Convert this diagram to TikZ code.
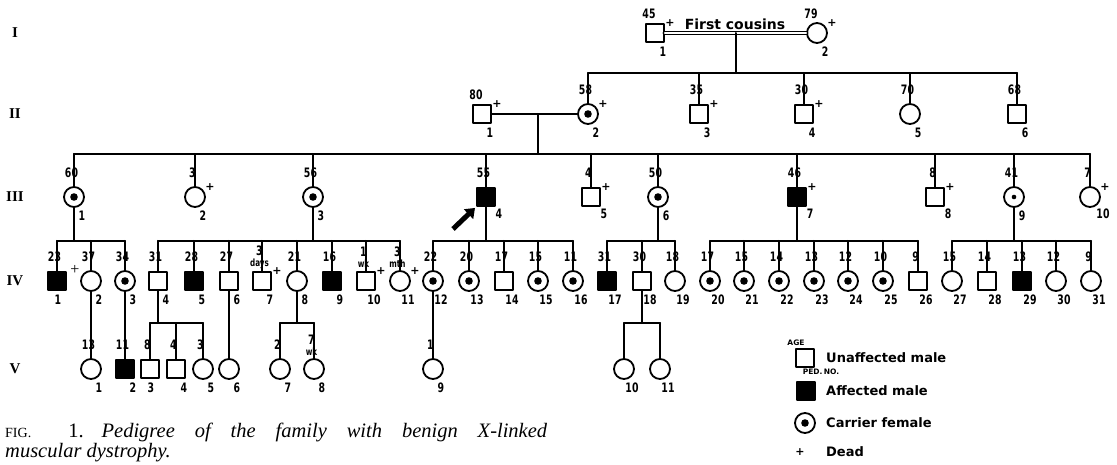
\documentclass[tikz,border=0pt]{standalone}
\usepackage{fontspec}
\setmainfont{Liberation Serif}
\newfontfamily\pedfont[FakeStretch=0.72]{DejaVu Sans}
\newfontfamily\keyfont{DejaVu Sans}
\usetikzlibrary{arrows,arrows.meta,calc}
\newcommand{\agesmall}[1]{{\fontsize{10}{10}\selectfont #1}}

\tikzset{
  ln/.style={line width=2pt},
  male/.style={draw, rectangle, line width=1.8pt, minimum size=18pt, inner sep=0pt},
  aff/.style={male, fill=black},
  fem/.style={draw, circle, line width=1.8pt, minimum size=20pt, inner sep=0pt},
  carr/.style={fem, path picture={\fill (path picture bounding box.center) circle (3.8pt);}},
  carrs/.style={fem, path picture={\fill (path picture bounding box.center) circle (2.3pt);}},
  deadtxt/.style={font=\keyfont\bfseries\fontsize{11}{11}\selectfont, inner sep=0pt},
  dead/.style={label={[deadtxt, xshift=15pt, yshift=10pt]center:+}},
  maled/.style={male, dead}, affd/.style={aff, dead}, femd/.style={fem, dead},
  agetxt/.style={font=\pedfont\bfseries\fontsize{13}{11}\selectfont, inner sep=0.5pt, align=center},
  pedtxt/.style={font=\pedfont\bfseries\fontsize{13}{13}\selectfont, inner sep=0.5pt},
  age/.style={label={[agetxt, anchor=east, xshift=-2.5pt, yshift=24pt]center:#1}},
  agetl/.style={label={[agetxt, anchor=east, xshift=-6pt, yshift=19pt]center:#1}},
  no/.style={label={[pedtxt, xshift=8pt, yshift=-19pt]center:#1}},
  noc/.style={label={[pedtxt, xshift=1pt, yshift=-19pt]center:#1}},
  nor/.style={label={[pedtxt, xshift=13pt, yshift=-17pt]center:#1}},
  keytxt/.style={font=\keyfont\bfseries\fontsize{13}{13}\selectfont, inner sep=0pt},
  smalltxt/.style={font=\keyfont\bfseries\fontsize{7.5}{7.5}\selectfont, inner sep=0pt},
  gentxt/.style={font=\bfseries\fontsize{15}{15}\selectfont, inner sep=0pt},
  captxt/.style={anchor=base west, inner sep=0pt, font=\fontsize{20.5}{24}\selectfont\frenchspacing},
  proband/.style={-{Triangle[length=9pt,width=13pt]}, line width=5pt, line cap=butt, shorten >=1.5pt}
}

\begin{document}
\begin{tikzpicture}[line cap=round,line join=round,>=triangle 45,x=1pt,y=-1pt]
  \useasboundingbox (0,0) rectangle (1117,465);
  \clip (0,0) rectangle (1117,465);
  %%%%%%%%%%%%%%%%%%%%% G E N E R A T I O N S %%%%%%%%%%%%%%%%%%%%%
  \foreach \g/\y in {I/33, II/114, III/197, IV/281, V/369}
    \node[gentxt] (gen\g) at (15,\y) {\g};

  %%%% I
  \node[maled, agetl=45, no=1] (I1) at (655,33) {};
  \node[femd, agetl=79, no=2] (I2) at (817,33) {};
  \draw[line width=1.4pt, double, double distance=1.8pt] (I1) -- (I2);
  \node[keytxt, font=\keyfont\bfseries\fontsize{14}{14}\selectfont] (cousins) at (735,24) {First cousins};
  \coordinate (m1) at ($(I1)!0.5!(I2)$);
  \coordinate (s2) at (0,73);
  \draw[ln] (m1) -- (m1 |- s2);

  %%%% II
  \node[maled, agetl=80, no=1] (II1) at (482,114) {};
  \node[carr, dead, age=58, no=2] (II2) at (588,114) {};
  \node[maled, age=35, no=3] (II3) at (699,114) {};
  \node[maled, age=30, no=4] (II4) at (804,114) {};
  \node[fem, age=70, no=5] (II5) at (910,114) {};
  \node[male, age=68, no=6] (II6) at (1017,114) {};
  \draw[ln] (II2 |- s2) -- (II6 |- s2);
  \foreach \k in {2,...,6}
    \draw[ln] (II\k) -- (II\k |- s2);
  \draw[ln] (II1) -- (II2);
  \coordinate (m2) at ($(II1)!0.53!(II2)$);
  \coordinate (s3) at (0,154);

  %%%% III
  \node[carr, age=60, no=1] (III1) at (74,197) {};
  \node[femd, age=3, no=2] (III2) at (195,197) {};
  \node[carr, age=56, no=3] (III3) at (313,197) {};
  \node[aff, age=55, nor=4] (III4) at (486,197) {};
  \node[maled, age=4, nor=5] (III5) at (591,197) {};
  \node[carr, age=50, no=6] (III6) at (658,197) {};
  \node[affd, age=46, nor=7] (III7) at (797,197) {};
  \node[maled, age=8, nor=8] (III8) at (935,197) {};
  \node[carrs, age=41, no=9] (III9) at (1014,197) {};
  \node[femd, age=7, nor=10] (III10) at (1090,197) {};
  \draw[ln] (m2) -- (m2 |- s3);
  \draw[ln] (III1 |- s3) -- (III10 |- s3);
  \foreach \k in {1,...,10}
    \draw[ln] (III\k) -- (III\k |- s3);
  %PROBAND
  \coordinate (pb) at (453,229);
  \draw[proband] (pb) -- (III4.south west);

  %%%% IV
  \coordinate (s4) at (0,241);
  \node[aff, age=23, noc=1] (IV1) at (57,281) {};
  \foreach \i/\x/\st/\ag in {2/91/fem/37, 3/125/carr/34, 4/158/male/31, 5/194/aff/28,
      6/229/male/27, 7/262/maled/{3\\\agesmall{days}}, 8/297/fem/21, 9/332/aff/16,
      10/366/maled/{1\\\agesmall{wk}}, 11/400/femd/{3\\\agesmall{mth}}, 12/433/carr/22,
      13/469/carr/20, 14/504/male/17, 15/538/carr/15, 16/573/carr/11, 17/607/aff/31,
      18/642/male/30, 19/675/fem/18, 20/710/carr/17, 21/744/carr/15, 22/779/carr/14,
      23/814/carr/13, 24/848/carr/12, 25/883/carr/10, 26/918/male/9, 27/952/fem/15,
      28/987/male/14, 29/1022/aff/13, 30/1056/fem/12, 31/1091/fem/9}
    \node[\st, age=\ag, no=\i] (IV\i) at (\x,281) {};
  \node[font=\fontsize{16}{16}\selectfont, inner sep=0pt] (cross) at (75,270) {+};
  \draw[ln] (IV1 |- s4) -- (IV3 |- s4);
  \draw[ln] (IV4 |- s4) -- (IV11 |- s4);
  \draw[ln] (IV12 |- s4) -- (IV16 |- s4);
  \draw[ln] (IV17 |- s4) -- (IV19 |- s4);
  \draw[ln] (IV20 |- s4) -- (IV26 |- s4);
  \draw[ln] (IV27 |- s4) -- (IV31 |- s4);
  \foreach \k in {1,...,31}
    \draw[ln] (IV\k) -- (IV\k |- s4);
  \foreach \p in {1,3,4,6,7,9}
    \draw[ln] (III\p) -- (III\p |- s4);

  %%%% V
  \coordinate (v) at (0,369);
  \coordinate (s5) at (0,323);
  \node[fem, age=13, no=1] (V1) at (IV2 |- v) {};
  \node[aff, age=11, no=2] (V2) at (IV3 |- v) {};
  \node[male, age=8, noc=3] (V3) at (150,369) {};
  \node[male, age=4, no=4] (V4) at (176,369) {};
  \node[fem, age=3, no=5] (V5) at (203,369) {};
  \node[fem, no=6] (V6) at (IV6 |- v) {};
  \node[fem, age=2, no=7] (V7) at (280,369) {};
  \node[fem, age={7\\\agesmall{wk}}, no=8] (V8) at (314,369) {};
  \node[fem, age=1, no=9] (V9) at (IV12 |- v) {};
  \node[fem, no=10] (V10) at (624,369) {};
  \node[fem, no=11] (V11) at (660,369) {};
  \draw[ln] (IV2) -- (V1);
  \draw[ln] (IV3) -- (V2);
  \draw[ln] (IV6) -- (V6);
  \draw[ln] (IV12) -- (V9);
  \draw[ln] (IV4) -- (IV4 |- s5);
  \draw[ln] (V3 |- s5) -- (V5 |- s5);
  \draw[ln] (IV8) -- (IV8 |- s5);
  \draw[ln] (V7 |- s5) -- (V8 |- s5);
  \draw[ln] (IV18) -- (IV18 |- s5);
  \draw[ln] (V10 |- s5) -- (V11 |- s5);
  \foreach \k in {3,4,5,7,8,10,11}
    \draw[ln] (V\k) -- (V\k |- s5);

  %%%% KEY
  \node[male] (keyU) at (805,358) {};
  \node[smalltxt] (keyage) at (796,343) {AGE};
  \node[smalltxt] (keyped) at (821,372) {PED.\,NO.};
  \node[keytxt, anchor=west] (tU) at (826,358) {Unaffected male};
  \node[aff] (keyA) at (806,391) {};
  \node[keytxt, anchor=west] (tA) at (826,391) {Affected male};
  \node[carr] (keyC) at (805,423) {};
  \node[keytxt, anchor=west] (tC) at (826,423) {Carrier female};
  \node[deadtxt] (keyD) at (800,452) {+};
  \node[keytxt, anchor=west] (tD) at (826,452) {Dead};

  %%%% CAPTION
  \node[captxt] (cap1) at (5,437)
    {\makebox[542pt][s]{{\fontsize{14}{14}\selectfont FIG.}\hspace{37pt}1.\hspace{18pt}\textit{Pedigree of the family with benign X-linked}}};
  \node[captxt] (cap2) at (5,457) {\textit{muscular dystrophy.}};
\end{tikzpicture}
\end{document}
